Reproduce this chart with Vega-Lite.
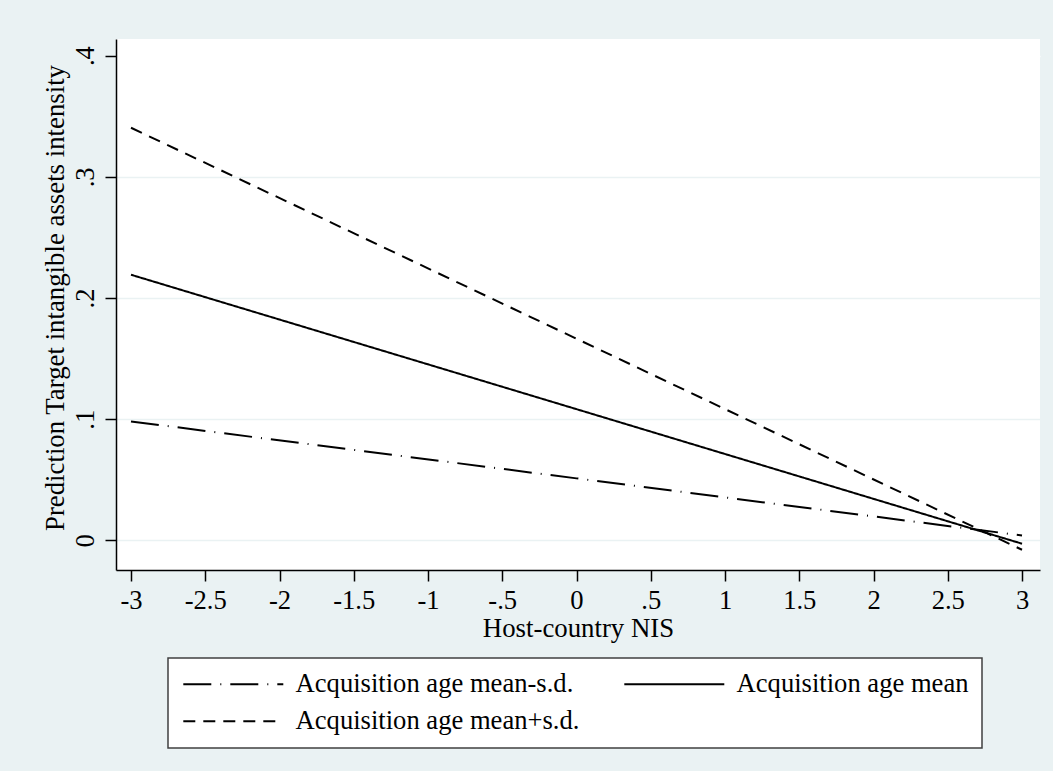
{
  "$schema": "https://vega.github.io/schema/vega-lite/v6.json",
  "width": 924,
  "height": 531,
  "autosize": {"type": "none"},
  "padding": {"left": 116, "top": 39, "right": 13, "bottom": 201},
  "background": "#eaf2f3",
  "config": {
    "view": {"fill": "white", "stroke": null},
    "font": "Liberation Serif",
    "axis": {
      "labelFont": "Liberation Serif",
      "titleFont": "Liberation Serif",
      "labelFontSize": 26.6,
      "titleFontSize": 26.8,
      "titleFontWeight": "normal",
      "labelColor": "black",
      "titleColor": "black",
      "domainColor": "black",
      "domainWidth": 1.5,
      "tickColor": "black",
      "tickWidth": 1.5,
      "tickSize": 11
    },
    "legend": {
      "labelFont": "Liberation Serif",
      "labelFontSize": 26.6,
      "labelColor": "black",
      "strokeWidth": 1.5
    }
  },
  "data": {
    "values": [
      {"series": "Acquisition age mean-s.d.", "x": -3, "y": 0.0982},
      {"series": "Acquisition age mean-s.d.", "x": 0, "y": 0.0512},
      {"series": "Acquisition age mean-s.d.", "x": 3, "y": 0.0041},
      {"series": "Acquisition age mean", "x": -3, "y": 0.2192},
      {"series": "Acquisition age mean", "x": 0, "y": 0.1083},
      {"series": "Acquisition age mean", "x": 3, "y": -0.0027},
      {"series": "Acquisition age mean+s.d.", "x": -3, "y": 0.3405},
      {"series": "Acquisition age mean+s.d.", "x": 0, "y": 0.1664},
      {"series": "Acquisition age mean+s.d.", "x": 3, "y": -0.0077}
    ]
  },
  "mark": {"type": "line", "color": "black", "strokeWidth": 2, "clip": true},
  "encoding": {
    "x": {
      "field": "x",
      "type": "quantitative",
      "scale": {"domain": [-3.101, 3.121], "nice": false, "zero": false},
      "axis": {
        "title": "Host-country NIS",
        "values": [-3, -2.5, -2, -1.5, -1, -0.5, 0, 0.5, 1, 1.5, 2, 2.5, 3],
        "labelExpr": "replace(toString(datum.value), '0.', '.')",
        "grid": false,
        "labelPadding": 6,
        "titlePadding": 2,
        "labelFlush": false,
        "labelOverlap": false
      }
    },
    "y": {
      "field": "y",
      "type": "quantitative",
      "scale": {"domain": [-0.0244, 0.4137], "nice": false, "zero": false},
      "axis": {
        "title": "Prediction Target intangible assets intensity",
        "values": [0, 0.1, 0.2, 0.3, 0.4],
        "labelExpr": "datum.value == 0 ? '0' : replace(toString(datum.value), '0.', '.')",
        "grid": true,
        "gridColor": {"condition": {"test": "datum.value == 0.4", "value": "white"}, "value": "#eaf2f3"},
        "gridWidth": 1.5,
        "labelAngle": -90,
        "labelAlign": "center",
        "labelBaseline": "alphabetic",
        "labelPadding": 12,
        "labelFlush": false,
        "labelOverlap": false,
        "titleAngle": -90,
        "titleAlign": "center",
        "titleBaseline": "alphabetic",
        "titleX": -53,
        "titleY": 258.5
      }
    },
    "strokeDash": {
      "field": "series",
      "type": "nominal",
      "scale": {
        "domain": ["Acquisition age mean-s.d.", "Acquisition age mean", "Acquisition age mean+s.d."],
        "range": [[28, 9, 1, 9], [1, 0], [12, 8]]
      },
      "legend": {
        "title": null,
        "orient": "none",
        "legendX": 52,
        "legendY": 619,
        "direction": "horizontal",
        "columns": 2,
        "columnPadding": 40,
        "rowPadding": 10,
        "padding": 13,
        "fillColor": "white",
        "strokeColor": "#404040",
        "symbolType": "M-5,0H5",
        "symbolSize": 400,
        "symbolOffset": 39,
        "symbolStrokeWidth": 2,
        "symbolStrokeColor": "black",
        "labelOffset": 49,
        "labelLimit": 500
      }
    }
  }
}
